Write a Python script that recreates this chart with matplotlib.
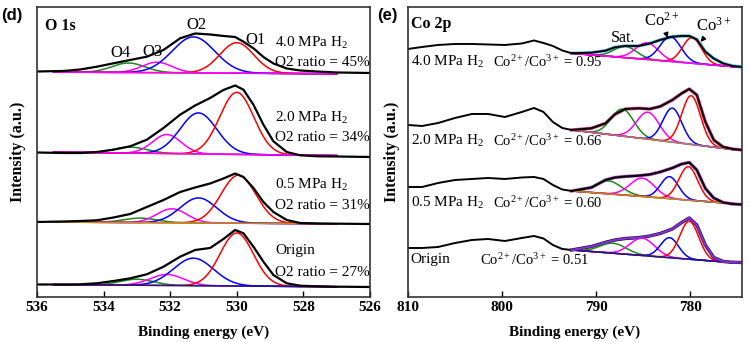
import numpy as np
import matplotlib.pyplot as plt

plt.rcParams['font.family'] = 'Liberation Serif'
plt.rcParams['mathtext.fontset'] = 'custom'
plt.rcParams['mathtext.rm'] = 'Liberation Serif'
plt.rcParams['mathtext.it'] = 'Liberation Serif:italic'
plt.rcParams['mathtext.bf'] = 'Liberation Serif:bold'

# ---------- O 1s (panel d) ----------
O1S_ENERGY = [536.0, 535.2, 534.7, 534.2, 533.7, 533.2, 532.7, 532.2, 531.7, 531.25, 530.8,
              530.4, 530.05, 529.8, 529.5, 529.2, 528.9, 528.5, 528.1, 527.6, 527.0, 526.0]
O1S_40 = [225.5, 226, 227.5, 230.3, 233.7, 237, 240.3, 247, 258.7, 263.5, 262.5,
          261, 260, 255.3, 248.7, 240, 233.5, 228.5, 226.5, 225.5, 224.5, 224]
O1S_20 = [144.5, 144, 144, 145, 147.3, 150.7, 157.3, 169, 182.3, 191.5, 199,
          207, 211.5, 207.3, 192.3, 172.3, 155.7, 145, 141.7, 140.7, 140.5, 140]
O1S_05 = [75, 75.5, 76, 76.7, 79.5, 83, 90, 97, 105, 109.5, 113.5,
          118.5, 123.5, 120, 109, 95, 85, 77, 74, 73.5, 73.3, 73]
O1S_ORIG = [12.5, 12.5, 12.7, 13.7, 16, 18.7, 22.7, 30.3, 40.3, 47, 49,
            58, 67, 63.7, 50.3, 35.3, 22, 13.7, 11.3, 10.7, 10.3, 10]

# fitted peaks (center eV, height, sigma): O1, O2, O3, O4
O1S_PEAKS_40 = [(530.0, 30.5, 0.51), (531.3, 36, 0.64), (532.4, 10.5, 0.45), (533.25, 9.5, 0.5)]
O1S_PEAKS_20 = [(530.0, 62, 0.51), (531.15, 41, 0.55), (532.1, 19, 0.43), (533.2, 6, 0.5)]
O1S_PEAKS_05 = [(529.95, 48, 0.52), (531.15, 25, 0.55), (531.95, 14, 0.45), (532.9, 4.5, 0.5)]
O1S_PEAKS_ORIG = [(530.0, 53, 0.5), (531.3, 27.5, 0.6), (532.1, 11, 0.5), (533.0, 6, 0.5)]
# background (value at 536 eV, value at 526 eV)
O1S_BG = [(225, 223), (145, 141), (75, 73), (12.5, 10)]
O1S_BG_COLORS = ['#ff00ff', '#ff00ff', '#c8861e', '#1a1a8c']

O1S_SAMPLES = ["4.0 MPa H$_2$", "2.0 MPa H$_2$", "0.5 MPa H$_2$", "Origin"]
O1S_RATIOS = ["O2 ratio = 45%", "O2 ratio = 34%", "O2 ratio = 31%", "O2 ratio = 27%"]
O1S_TEXT_Y = [(254, 234), (179, 159), (112, 91), (46, 24)]

# ---------- Co 2p (panel e) ----------
CO_ENERGY = [810, 808.5, 806.8, 805, 803.2, 801.5, 799.7, 797.9, 796.6, 795.6, 794.6, 793.6,
             792.6, 790.5, 789.0, 788.0, 786.9, 785.5, 784.3, 783.2, 781.9, 780.9, 780.1,
             779.3, 778.4, 777.5, 776.5, 775.5, 774.5]
CO_40 = [248, 250, 252, 253, 253, 252.5, 252, 253.5, 256.5, 254, 251, 246.5,
         243.7, 244.3, 246.3, 249.7, 251, 251, 253.5, 257, 260.3, 261, 261,
         257.5, 245.3, 238.5, 233.5, 231, 230]
CO_20 = [172, 171, 174, 179, 183, 183, 180, 185, 189, 185, 175, 169,
         167, 168.7, 173.7, 182.7, 188, 188.7, 188, 190.5, 197, 203.7, 208,
         202, 175.3, 157, 150, 148, 147]
CO_05 = [110, 110, 114, 117, 118, 119, 118, 119.5, 120, 118, 112, 107.5,
         106, 109.5, 117, 119.5, 120.5, 121.3, 122.5, 125, 129, 133, 134.5,
         127, 108.7, 99, 94.5, 93, 92.5]
CO_ORIG = [49, 49, 50, 54, 57, 58, 56, 59, 61, 58.5, 52, 48,
           47, 50.5, 54.7, 57, 58.5, 59.3, 61, 63.5, 68, 74.5, 79,
           72, 52, 39.5, 35.5, 34.7, 34.5]

# fitted peaks: Co3+, Co2+, shake-up, Sat.
CO_PEAKS_40 = [(779.8, 25.7, 1.0), (782.1, 24.8, 1.1), (784.6, 16.7, 1.2), (786.9, 11.4, 1.2)]
CO_PEAKS_20 = [(779.9, 48.7, 1.0), (781.9, 34, 1.0), (784.5, 27, 1.2), (787.2, 27, 1.2)]
CO_PEAKS_05 = [(780.2, 33.5, 1.0), (782.2, 22, 0.95), (785.1, 18.4, 1.3), (788.7, 13, 1.4)]
CO_PEAKS_ORIG = [(780.1, 38, 1.0), (782.2, 20, 0.95), (785.1, 17.4, 1.3), (788.2, 10, 1.4)]
# background (value at 792.6 eV, value at 775 eV)
CO_BG = [(243.7, 230), (167, 147), (106, 93), (47, 34)]
CO_BG_COLORS = ['#ff00ff', '#b07878', '#c8861e', '#1a1a8c']
CO_DATA_COLORS = ['#3cb4e6', '#d02f7a', '#a030b0', '#000000']

CO_SAMPLES = ["4.0 MPa H$_2$", "2.0 MPa H$_2$", "0.5 MPa H$_2$", "Origin"]
CO_RATIOS = ["Co$^{2+}$/Co$^{3+}$ = 0.95", "Co$^{2+}$/Co$^{3+}$ = 0.66",
             "Co$^{2+}$/Co$^{3+}$ = 0.60", "Co$^{2+}$/Co$^{3+}$ = 0.51"]
CO_TEXT_Y = [235, 156, 94, 37]

PEAK_COLORS = ['#ff0000', '#0000ff', '#ff00ff', '#1a8a1a']


def gauss(x, c, h, s):
    return h * np.exp(-(x - c) ** 2 / (2 * s ** 2))


def draw_fit(ax, x, bg, peaks, bg_color):
    # green, magenta, blue, red, then background on top
    for (c, h, s), col in list(zip(peaks, PEAK_COLORS))[::-1]:
        ax.plot(x, bg + gauss(x, c, h, s), color=col, lw=1.1)
    ax.plot(x, bg, color=bg_color, lw=1.1)


def style_axis(ax, xlim, ticks, ylabelpad):
    ax.set_xlim(*xlim)
    ax.set_ylim(0, 290)
    ax.set_xticks(ticks)
    ax.set_yticks([])
    ax.tick_params(axis='x', direction='in', length=4, width=1, labelsize=11, pad=3)
    for lab in ax.get_xticklabels():
        lab.set_fontweight('bold')
    for sp in ax.spines.values():
        sp.set_linewidth(1.2)
        sp.set_color('#333333')
    ax.set_xlabel("Binding energy (eV)", fontsize=11, fontweight='bold', labelpad=8)
    ax.set_ylabel("Intensity (a.u.)", fontsize=11.5, fontweight='bold', labelpad=ylabelpad)


def plot_xps():
    fig = plt.figure(figsize=(7.5, 3.42), dpi=100)
    ax1 = fig.add_axes([0.0493, 0.1316, 0.444, 0.848])
    ax2 = fig.add_axes([0.544, 0.1316, 0.4453, 0.848])

    # panel (d): O 1s
    xs = np.linspace(535.5, 527.0, 300)
    spectra = [O1S_40, O1S_20, O1S_05, O1S_ORIG]
    peaks = [O1S_PEAKS_40, O1S_PEAKS_20, O1S_PEAKS_05, O1S_PEAKS_ORIG]
    for i in range(4):
        b0, b1 = O1S_BG[i]
        bg = b0 + (b1 - b0) * (536 - xs) / 10
        draw_fit(ax1, xs, bg, peaks[i], O1S_BG_COLORS[i])
        ax1.plot(O1S_ENERGY, spectra[i], color='black', lw=1.6)
        ax1.text(528.85, O1S_TEXT_Y[i][0], O1S_SAMPLES[i], fontsize=11, va='center')
        ax1.text(528.85, O1S_TEXT_Y[i][1], O1S_RATIOS[i], fontsize=11, va='center')

    for name, ex, ey in [("O4", 533.48, 244), ("O3", 532.52, 245), ("O2", 531.2, 272), ("O1", 529.45, 257)]:
        ax1.text(ex, ey, name, fontsize=12, ha='center', va='center')
    ax1.text(535.76, 271, "O 1s", fontsize=11.5, fontweight='bold', va='center')
    style_axis(ax1, (536, 526), [536, 534, 532, 530, 528, 526], 8)

    # panel (e): Co 2p
    xc = np.linspace(792.6, 775.0, 300)
    energy = np.array(CO_ENERGY)
    fit_part = energy <= 792.6
    raw_part = energy >= 792.6
    spectra = [CO_40, CO_20, CO_05, CO_ORIG]
    peaks = [CO_PEAKS_40, CO_PEAKS_20, CO_PEAKS_05, CO_PEAKS_ORIG]
    for i in range(4):
        b0, b1 = CO_BG[i]
        bg = b0 + (b1 - b0) * (792.6 - xc) / 17.6
        y = np.array(spectra[i])
        ax2.plot(energy[fit_part], y[fit_part], color=CO_DATA_COLORS[i], lw=2.4, alpha=0.9)
        draw_fit(ax2, xc, bg, peaks[i], CO_BG_COLORS[i])
        if i == 3:
            ax2.plot(energy[raw_part], y[raw_part], color='black', lw=1.4)
            ax2.plot(energy[fit_part], y[fit_part], color='#8a2be2', lw=1.5)
        else:
            ax2.plot(energy, y, color='black', lw=1.4)
        ax2.text(809.7, CO_TEXT_Y[i], CO_SAMPLES[i], fontsize=11, va='center')
        ax2.text(802.3 if i == 3 else 800.96, CO_TEXT_Y[i], CO_RATIOS[i], fontsize=10.5, va='center')

    ax2.text(787.1, 259, "Sat.", fontsize=11.5, ha='center', va='center')
    ax2.annotate("Co$^{2+}$", xy=(782.4, 259), xytext=(783.0, 276), fontsize=12,
                 ha='center', va='center',
                 arrowprops=dict(arrowstyle='-|>', color='black', lw=1, shrinkA=4, shrinkB=0,
                                 mutation_scale=7))
    ax2.annotate("Co$^{3+}$", xy=(778.9, 255), xytext=(777.5, 271), fontsize=12,
                 ha='center', va='center',
                 arrowprops=dict(arrowstyle='-|>', color='black', lw=1, shrinkA=4, shrinkB=0,
                                 mutation_scale=7))
    ax2.text(809.7, 273, "Co 2p", fontsize=11.5, fontweight='bold', va='center')
    style_axis(ax2, (810, 774.5), [810, 800, 790, 780], 6)

    fig.text(0.002, 0.955, "(d)", fontsize=12, fontweight='bold', family='Liberation Sans', va='center')
    fig.text(0.5035, 0.955, "(e)", fontsize=12, fontweight='bold', family='Liberation Sans', va='center')

    fig.savefig("out.png", dpi=100)


if __name__ == "__main__":
    plot_xps()
